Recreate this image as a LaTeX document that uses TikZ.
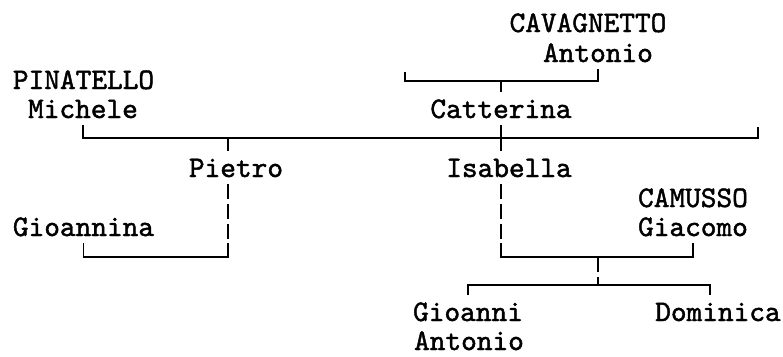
\documentclass[tikz,border=0pt]{standalone}
\usepackage{xcolor}
\usepackage{fontspec}
\usepackage{tikz}
\newfontfamily\treemono{lmmono10-regular.otf}[FakeBold=1.5]
\newcommand{\treefont}{\treemono\fontsize{17}{20}\selectfont}

\begin{document}
\begin{tikzpicture}[
    person/.style={font=\treefont, anchor=base, inner sep=4pt,
                   text height=10.4pt, text depth=0pt},
    surname/.style={person, inner sep=0pt},
    secondname/.style={person, inner sep=0pt, text height=9pt},
    link/.style={draw=black, line width=1.1pt},
    descent/.style={link, dash pattern=on 8.5pt off 2.8pt}
]
    \useasboundingbox (0,0) rectangle (15.66,7.12);

    % Parents of Catterina
    \node[surname] (cavsurname) at (11.76,6.48) {CAVAGNETTO};
    \node[person] (cavname) at (11.96,5.88) {Antonio};
    \node[person] (catterina) at (10.02,4.76) {Catterina};

    % Husband
    \node[surname] (pinsurname) at (1.67,5.34) {PINATELLO};
    \node[person] (michele) at (1.66,4.76) {Michele};

    % Children
    \node[person] (pietro) at (4.72,3.58) {Pietro};
    \node[person] (isabella) at (10.18,3.58) {Isabella};
    \node[person] (gioannina) at (1.67,2.40) {Gioannina};
    \node[surname] (camsurname) at (13.86,2.98) {CAMUSSO};
    \node[person] (giacomo) at (13.86,2.40) {Giacomo};

    % Grandchildren
    \node[person] (gioanni) at (9.36,0.70) {Gioanni};
    \node[secondname] (gioantonio) at (9.38,0.12) {Antonio};
    \node[person] (dominica) at (14.36,0.70) {Dominica};

    % Junctions
    \coordinate (catmother) at (8.10,5.68);
    \coordinate (catj) at (10.02,5.50);
    \coordinate (mainj) at (10.02,4.36);
    \coordinate (mainR) at (15.16,4.58);
    \coordinate (pietroj) at (4.56,4.36);
    \coordinate (isaj) at (11.96,1.98);
    \coordinate (kidsj) at (11.96,1.42);
    \coordinate (domj) at (14.20,1.42);

    % Catterina's parents
    \draw[link] (catmother) |- (catj) -| (cavname.south);
    \draw[link] (catj) -- (catterina.north);

    % Marriage line
    \draw[link] (michele.south) |- (mainj) -| (mainR);
    \draw[link] (catterina.south) -- (catterina.south |- isabella.north);
    \draw[link] (pietroj) -- (pietroj |- pietro.north);

    % Pietro and Gioannina
    \draw[descent] (pietroj |- pietro.south) -- (pietroj |- gioannina.south);
    \draw[link] (pietroj |- gioannina.south) |- (gioannina.south |- isaj) -- (gioannina.south);

    % Isabella and Giacomo
    \draw[descent] (catterina.south |- isabella.south) -- (catterina.south |- giacomo.south);
    \draw[link] (catterina.south |- giacomo.south) |- (isaj) -| (giacomo.south);
    \draw[descent] (isaj) -- (kidsj);
    \draw[link] (gioanni.north) |- (domj) -- (domj |- dominica.north);
\end{tikzpicture}
\end{document}
